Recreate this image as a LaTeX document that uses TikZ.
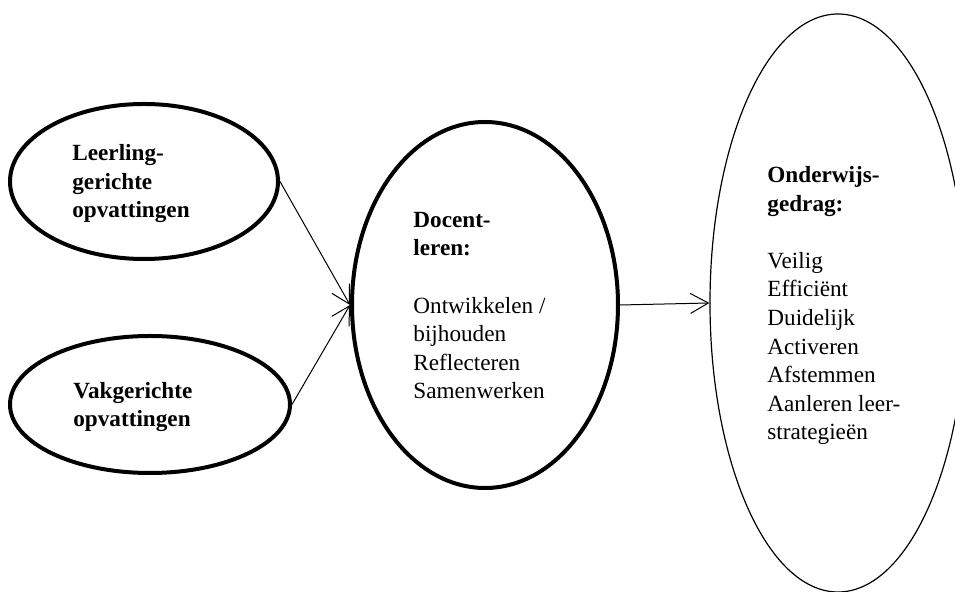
\documentclass[tikz,border=0pt]{standalone}
\usepackage{fontspec}
\setmainfont{Liberation Serif}
\usetikzlibrary{shapes.geometric,arrows.meta}
\begin{document}
\begin{tikzpicture}[x=0.5pt,y=-0.5pt,
  bubble/.style={ellipse,draw,line width=2pt,inner sep=0pt},
  thinbubble/.style={ellipse,draw,line width=0.6pt,inner sep=0pt},
  label/.style={anchor=base west,align=left,inner sep=0pt,
    font=\fontsize{11.6}{14.3}\selectfont},
  link/.style={line width=0.5pt,-{Straight Barb[length=9pt,width=10pt]}}]
\useasboundingbox (0,0) rectangle (955,592);

% ellipses
\node[bubble,minimum width=134pt,minimum height=77.5pt] (lt) at (144,181.5) {};
\node[bubble,minimum width=140pt,minimum height=68.5pt] (lb) at (150,404.5) {};
\node[bubble,minimum width=133pt,minimum height=183pt] (mid) at (485,305) {};
\node[thinbubble,minimum width=128pt,minimum height=289pt] (rt) at (838,303) {};

% texts, placed by the baseline of their last line
\node[label] (tlt) at (72,218) {\textbf{Leerling-}\\\textbf{gerichte}\\\textbf{opvattingen}};
\node[label] (tlb) at (73,427) {\textbf{Vakgerichte}\\\textbf{opvattingen}};
\node[label] (tmid) at (413,399) {\textbf{Docent-}\\\textbf{leren:}\\[14.3pt]Ontwikkelen /\\bijhouden\\Reflecteren\\Samenwerken};
\node[label] (trt) at (767,440) {\textbf{Onderwijs-}\\\textbf{gedrag:}\\[14.3pt]Veilig\\Efficiënt\\Duidelijk\\Activeren\\Afstemmen\\Aanleren leer-\\strategieën};

% connectors
\draw[link] (lt.east) -- (mid.west);
\draw[link] (lb.east) -- (mid.west);
\draw[link] (mid.east) -- (rt.west);
\end{tikzpicture}
\end{document}
